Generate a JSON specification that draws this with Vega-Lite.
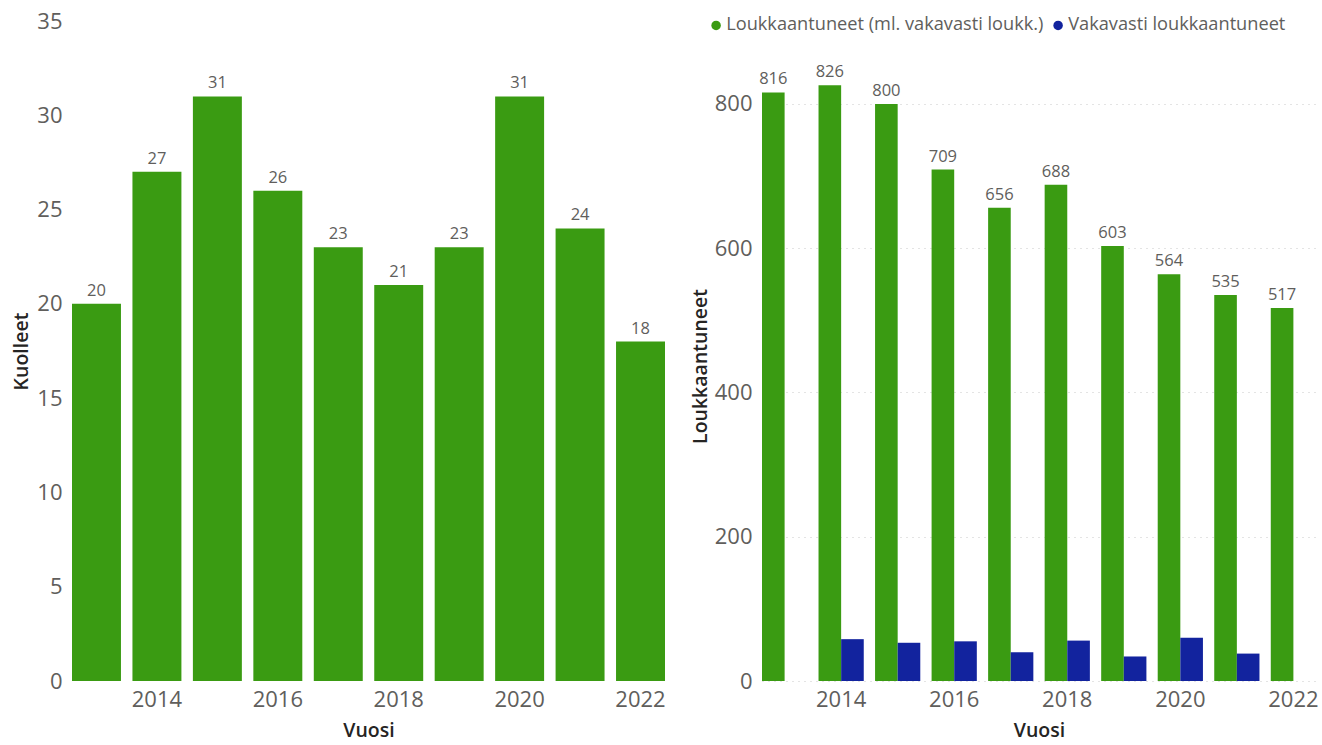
{
  "$schema": "https://vega.github.io/schema/vega-lite/v6.json",
  "padding": {"left": 11, "top": 10, "right": 0, "bottom": 0},
  "background": "white",
  "spacing": 24,
  "config": {
    "font": "Open Sans",
    "view": {"stroke": null},
    "axis": {
      "labelFont": "Open Sans",
      "labelFontSize": 22,
      "labelColor": "#605E5C",
      "titleFont": "Open Sans",
      "titleFontSize": 19.5,
      "titleFontWeight": 600,
      "titleColor": "#252423",
      "domain": false,
      "ticks": false
    }
  },
  "datasets": {
    "kuolleet": [
      {"Vuosi": 2013, "Kuolleet": 20},
      {"Vuosi": 2014, "Kuolleet": 27},
      {"Vuosi": 2015, "Kuolleet": 31},
      {"Vuosi": 2016, "Kuolleet": 26},
      {"Vuosi": 2017, "Kuolleet": 23},
      {"Vuosi": 2018, "Kuolleet": 21},
      {"Vuosi": 2019, "Kuolleet": 23},
      {"Vuosi": 2020, "Kuolleet": 31},
      {"Vuosi": 2021, "Kuolleet": 24},
      {"Vuosi": 2022, "Kuolleet": 18}
    ],
    "louk": [
      {"Vuosi": 2013, "Sarja": "Loukkaantuneet (ml. vakavasti loukk.)", "Arvo": 816},
      {"Vuosi": 2014, "Sarja": "Loukkaantuneet (ml. vakavasti loukk.)", "Arvo": 826},
      {"Vuosi": 2015, "Sarja": "Loukkaantuneet (ml. vakavasti loukk.)", "Arvo": 800},
      {"Vuosi": 2016, "Sarja": "Loukkaantuneet (ml. vakavasti loukk.)", "Arvo": 709},
      {"Vuosi": 2017, "Sarja": "Loukkaantuneet (ml. vakavasti loukk.)", "Arvo": 656},
      {"Vuosi": 2018, "Sarja": "Loukkaantuneet (ml. vakavasti loukk.)", "Arvo": 688},
      {"Vuosi": 2019, "Sarja": "Loukkaantuneet (ml. vakavasti loukk.)", "Arvo": 603},
      {"Vuosi": 2020, "Sarja": "Loukkaantuneet (ml. vakavasti loukk.)", "Arvo": 564},
      {"Vuosi": 2021, "Sarja": "Loukkaantuneet (ml. vakavasti loukk.)", "Arvo": 535},
      {"Vuosi": 2022, "Sarja": "Loukkaantuneet (ml. vakavasti loukk.)", "Arvo": 517},
      {"Vuosi": 2014, "Sarja": "Vakavasti loukkaantuneet", "Arvo": 58},
      {"Vuosi": 2015, "Sarja": "Vakavasti loukkaantuneet", "Arvo": 53},
      {"Vuosi": 2016, "Sarja": "Vakavasti loukkaantuneet", "Arvo": 55},
      {"Vuosi": 2017, "Sarja": "Vakavasti loukkaantuneet", "Arvo": 40},
      {"Vuosi": 2018, "Sarja": "Vakavasti loukkaantuneet", "Arvo": 56},
      {"Vuosi": 2019, "Sarja": "Vakavasti loukkaantuneet", "Arvo": 34},
      {"Vuosi": 2020, "Sarja": "Vakavasti loukkaantuneet", "Arvo": 60},
      {"Vuosi": 2021, "Sarja": "Vakavasti loukkaantuneet", "Arvo": 38}
    ]
  },
  "resolve": {"legend": {"color": "independent"}, "scale": {"color": "independent", "x": "independent", "y": "independent"}},
  "hconcat": [
    {
      "width": 593,
      "height": 660,
      "data": {"name": "kuolleet"},
      "encoding": {
        "x": {
          "field": "Vuosi", "type": "ordinal",
          "scale": {"paddingInner": 0.19, "paddingOuter": 0},
          "axis": {"labelAngle": 0, "labelExpr": "datum.value % 2 == 0 ? datum.label : ''", "labelPadding": 8, "title": "Vuosi", "titlePadding": 11}
        },
        "y": {
          "field": "Kuolleet", "type": "quantitative",
          "scale": {"domain": [0, 35], "nice": false},
          "axis": {"values": [0, 5, 10, 15, 20, 25, 30, 35], "grid": false, "labelPadding": 10, "title": "Kuolleet", "titlePadding": 5}
        }
      },
      "layer": [
        {"mark": {"type": "bar", "color": "#3A9B12"}},
        {
          "mark": {"type": "text", "baseline": "bottom", "dy": -5, "fontSize": 16.5, "color": "#605E5C", "font": "Open Sans"},
          "encoding": {"text": {"field": "Kuolleet", "type": "quantitative"}}
        }
      ]
    },
    {
      "width": 554,
      "height": 660,
      "data": {"name": "louk"},
      "encoding": {
        "x": {
          "field": "Vuosi", "type": "ordinal",
          "scale": {"paddingInner": 0.2, "paddingOuter": 0},
          "axis": {"labelAngle": 0, "labelExpr": "datum.value % 2 == 0 ? datum.label : ''", "labelPadding": 8, "title": "Vuosi", "titlePadding": 11}
        },
        "xOffset": {
          "field": "Sarja", "type": "nominal",
          "scale": {"domain": ["Loukkaantuneet (ml. vakavasti loukk.)", "Vakavasti loukkaantuneet"], "paddingInner": 0}
        },
        "y": {
          "field": "Arvo", "type": "quantitative",
          "scale": {"domain": [0, 915], "nice": false},
          "axis": {"values": [0, 200, 400, 600, 800], "grid": true, "gridColor": "#C8C8C8", "gridDash": [1, 5], "gridWidth": 1, "labelPadding": 10, "title": "Loukkaantuneet", "titlePadding": 4, "titleY": 345}
        }
      },
      "layer": [
        {
          "mark": {"type": "bar"},
          "encoding": {
            "color": {
              "field": "Sarja", "type": "nominal",
              "scale": {"domain": ["Loukkaantuneet (ml. vakavasti loukk.)", "Vakavasti loukkaantuneet"], "range": ["#3A9B12", "#12239E"]},
              "legend": {
                "title": null, "orient": "none", "direction": "horizontal",
                "legendX": -55, "legendY": -5,
                "symbolType": "circle", "symbolSize": 90, "symbolOffset": 0,
                "labelFont": "Open Sans", "labelFontSize": 18.2, "labelColor": "#605E5C",
                "labelLimit": 0, "labelOffset": 1, "columnPadding": 5
              }
            }
          }
        },
        {
          "transform": [{"filter": "datum.Sarja == 'Loukkaantuneet (ml. vakavasti loukk.)'"}],
          "mark": {"type": "text", "baseline": "bottom", "dy": -5, "fontSize": 16.5, "color": "#605E5C", "font": "Open Sans"},
          "encoding": {"text": {"field": "Arvo", "type": "quantitative"}}
        }
      ]
    }
  ]
}
